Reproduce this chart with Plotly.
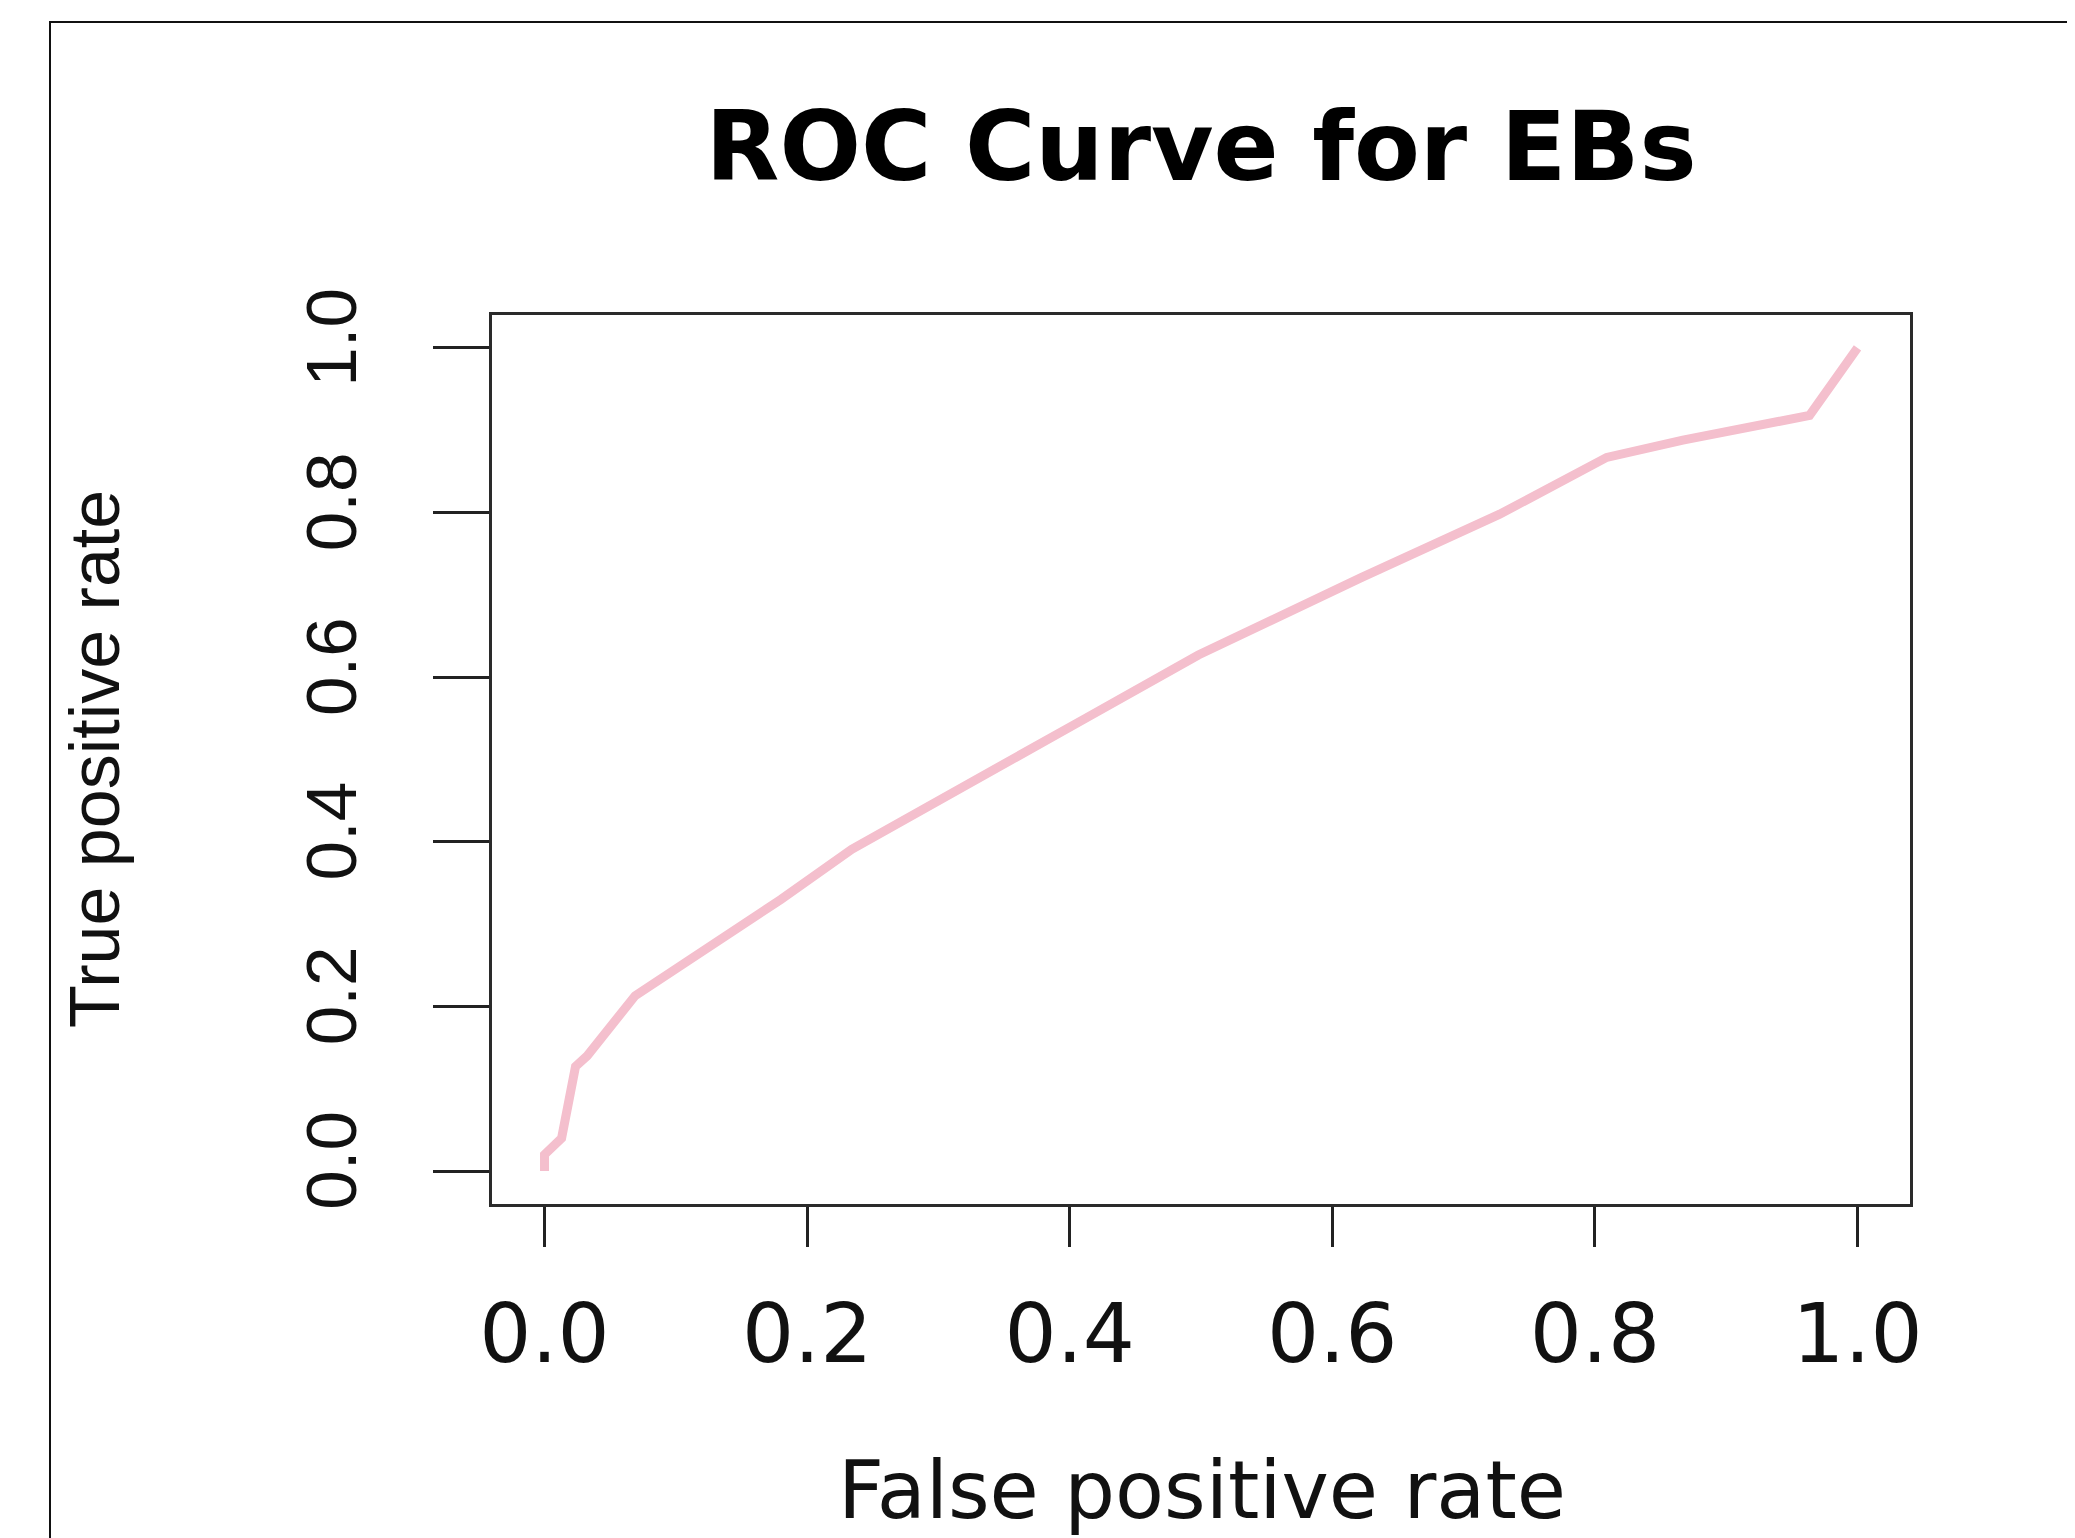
import plotly.graph_objects as go

# ROC curve data
fpr = [0.0, 0.0, 0.013, 0.0236, 0.0325, 0.069, 0.18, 0.234, 0.412, 0.498, 0.622, 0.7275, 0.809, 0.867, 0.9635, 1.0]
tpr = [0.0, 0.02, 0.040, 0.127, 0.140, 0.213, 0.33, 0.391, 0.550, 0.627, 0.721, 0.798, 0.867, 0.888, 0.918, 1.0]

tick_vals = [0.0, 0.2, 0.4, 0.6, 0.8, 1.0]
tick_text = ["0.0", "0.2", "0.4", "0.6", "0.8", "1.0"]

title_text = "ROC Curve for EBs"
x_title = "False positive rate"
y_title = "True positive rate"

# page is 2075x1538; the browser body margin shifts the figure by 8px
OFF = 8
PAGE_W, PAGE_H = 2075, 1538
W, H = PAGE_W - OFF, PAGE_H - OFF
# plot box in page pixels
BOX_L, BOX_R, BOX_T, BOX_B = 492, 1910, 315, 1204
L = BOX_L - OFF
T = BOX_T - OFF
R = PAGE_W - BOX_R
B = PAGE_H - BOX_B
PW = BOX_R - BOX_L
PH = BOX_B - BOX_T

def px_x(p):
    return (p - BOX_L) / PW

def px_y(p):
    return (BOX_B - p) / PH

fig = go.Figure()
fig.add_trace(go.Scatter(
    x=fpr, y=tpr, mode="lines",
    line=dict(color="#F4BFCD", width=9),
    showlegend=False, hoverinfo="skip",
))

axis_common = dict(
    range=[-0.04, 1.04],
    tickvals=tick_vals,
    ticktext=tick_text,
    showgrid=False,
    zeroline=False,
    showline=True,
    mirror=True,
    linecolor="#2a2a2a",
    linewidth=3,
    ticks="outside",
    tickcolor="#222222",
    tickwidth=3,
)

fig.update_xaxes(
    **axis_common,
    ticklen=40,
    ticklabelstandoff=17,
    tickfont=dict(family="DejaVu Sans", size=82, color="#111111"),
)
fig.update_yaxes(
    **axis_common,
    ticklen=56,
    tickangle=-90,
    ticklabelstandoff=49,
    tickfont=dict(family="Liberation Sans, Arial", size=71, color="#111111"),
)

fig.update_layout(
    width=W, height=H,
    margin=dict(l=L, r=R, t=T, b=B, autoexpand=False),
    paper_bgcolor="white",
    plot_bgcolor="white",
    title=dict(
        text=title_text,
        x=0.5, xref="paper", xanchor="center",
        y=1 - (146 - OFF) / H, yref="container", yanchor="middle",
        font=dict(family="DejaVu Sans", size=96, color="#000000", weight="bold"),
    ),
    annotations=[
        dict(text=x_title, xref="paper", yref="paper",
             x=px_x(1202), y=px_y(1491), xanchor="center", yanchor="middle",
             showarrow=False,
             font=dict(family="DejaVu Sans", size=80, color="#111111")),
        dict(text=y_title, xref="paper", yref="paper",
             x=px_x(95), y=px_y(759), xanchor="center", yanchor="middle",
             textangle=-90, showarrow=False,
             font=dict(family="Liberation Sans, Arial", size=70, color="#111111")),
    ],
    shapes=[
        dict(type="rect", xref="paper", yref="paper",
             x0=px_x(50), x1=px_x(PAGE_W + 20), y0=px_y(PAGE_H + 20), y1=px_y(22),
             line=dict(color="#111111", width=2), fillcolor="rgba(0,0,0,0)", layer="above"),
    ],
)

fig.write_html("out.html")
